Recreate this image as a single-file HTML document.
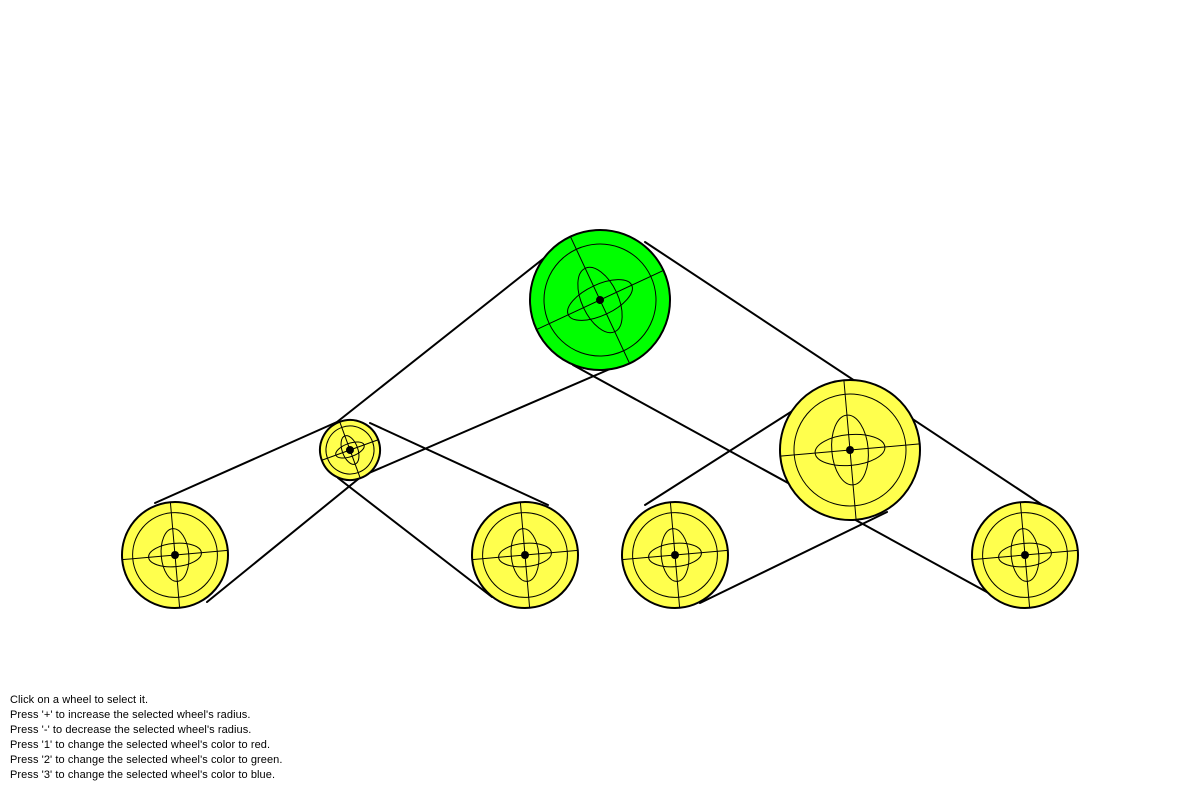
<!DOCTYPE html>
<html><head><meta charset="utf-8"><style>
html,body{margin:0;padding:0;background:#fff;width:1200px;height:800px;overflow:hidden}
.help{position:absolute;left:10px;top:693px;font-family:"Liberation Sans",sans-serif;font-size:11px;line-height:15px;color:#000;letter-spacing:0.08px}
</style></head><body>
<svg id="scene" width="1200" height="800" style="position:absolute;left:0;top:0">
<g id="belts"></g>
<g id="wheels"></g>
</svg>
<div class="help">
<div>Click on a wheel to select it.</div>
<div>Press '+' to increase the selected wheel's radius.</div>
<div>Press '-' to decrease the selected wheel's radius.</div>
<div>Press '1' to change the selected wheel's color to red.</div>
<div>Press '2' to change the selected wheel's color to green.</div>
<div>Press '3' to change the selected wheel's color to blue.</div>
</div>
<script>
const wheelX=[600,350,175,525,675,850,1025];
const wheelY=[300,450,555,555,555,450,555];
const wheelR=[70,30,53,53,53,70,53];
const wheelColor=["#00ff00","#ffff4d","#ffff4d","#ffff4d","#ffff4d","#ffff4d","#ffff4d"];
const wheelAngle=[-25,-20,-5,-5,-5,-5,-5];
const beltX1=[572,337,610,362,370,338,645,573,645,700];
const beltY1=[236,422,369,476,423,478,242,365,505,603];
const beltX2=[337,155,362,207,548,492,1050,1005,830,887];
const beltY2=[422,503,476,602,505,597,510,602,387,512];
const NS="http://www.w3.org/2000/svg";
function mk(tag,attrs,parent){const e=document.createElementNS(NS,tag);for(const k in attrs)e.setAttribute(k,attrs[k]);parent.appendChild(e);return e;}
const belts=document.getElementById('belts');
for(let i=0;i<beltX1.length;i++){
  const l=mk('line',{x1:beltX1[i],y1:beltY1[i],x2:beltX2[i],y2:beltY2[i],stroke:'#000','stroke-width':2,'stroke-linecap':'round'},belts);
  
  
}
const wg=document.getElementById('wheels');
for(let i=0;i<wheelX.length;i++){
  const r=wheelR[i],a=wheelAngle[i];
  const g=mk('g',{transform:`translate(${wheelX[i]},${wheelY[i]}) rotate(${a})`},wg);
  
  
  mk('circle',{r:r,fill:wheelColor[i],stroke:'#000','stroke-width':2},g);
  mk('circle',{r:r*0.8,fill:'none',stroke:'#000','stroke-width':1},g);
  mk('ellipse',{rx:r*0.5,ry:r*0.22,fill:'none',stroke:'#000','stroke-width':1},g);
  mk('ellipse',{rx:r*0.26,ry:r*0.5,fill:'none',stroke:'#000','stroke-width':1},g);
  mk('line',{x1:-r,y1:0,x2:r,y2:0,stroke:'#000','stroke-width':1},g);
  mk('line',{x1:0,y1:-r,x2:0,y2:r,stroke:'#000','stroke-width':1},g);
  mk('circle',{r:4,fill:'#000'},g);
}
</script>
</body></html>
